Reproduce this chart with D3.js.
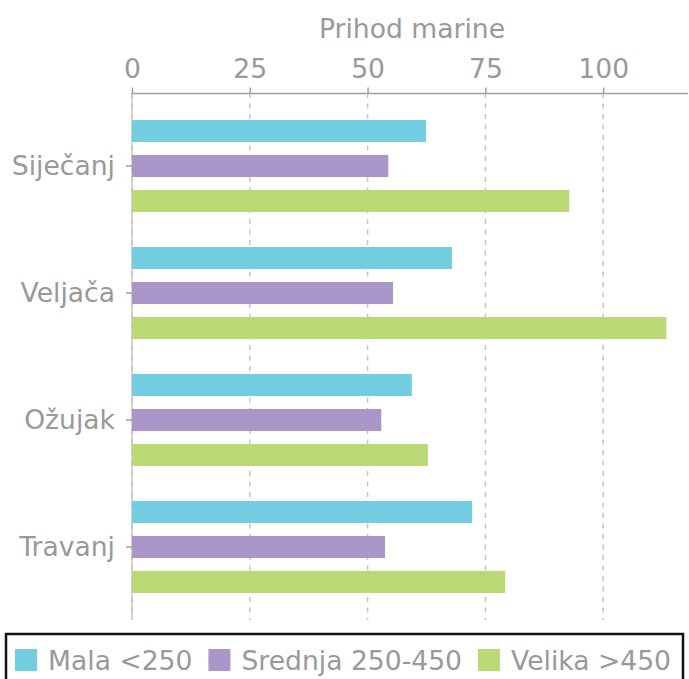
<!DOCTYPE html>
<html lang="hr">
<head>
<meta charset="utf-8">
<title>Prihod marine</title>
<script src="https://cdn.jsdelivr.net/npm/d3@7"></script>
<style>
  html, body { margin: 0; padding: 0; background: #fff; }
  svg { display: block; font-family: "DejaVu Sans", sans-serif; }
</style>
</head>
<body>
<script>
// data
var months = ["Siječanj", "Veljača", "Ožujak", "Travanj"];
var seriesNames = ["Mala <250", "Srednja 250-450", "Velika >450"];
var mala    = [62.4, 67.9, 59.4, 72.2];
var srednja = [54.4, 55.4, 52.9, 53.7];
var velika  = [92.8, 113.4, 62.8, 79.2];
var xTicks  = [0, 25, 50, 75, 100];
var colors  = ["#72cde0", "#ab96c9", "#bad976"];

var width = 689, height = 679;
var textColor = "#999";
var fontSize = "26.6px";

var svg = d3.select("body").append("svg")
    .attr("width", width)
    .attr("height", height);

var x = d3.scaleLinear().domain([0, 118]).range([132, 688]);
var y0 = d3.scaleBand().domain(months).range([102.5, 610.5]);
var y1 = d3.scaleBand().domain(seriesNames).range([0, y0.bandwidth()])
    .paddingInner(0.37).paddingOuter(0.5);

var rows = months.map(function(m, i) {
    return { month: m, values: [mala[i], srednja[i], velika[i]] };
});

// y axis line
svg.append("line")
    .attr("x1", x(0)).attr("x2", x(0))
    .attr("y1", 93).attr("y2", 620)
    .attr("stroke", "#c8c8c8").attr("stroke-width", 1.5);

// grid
svg.append("g").selectAll("line")
    .data(xTicks)
    .enter().append("line")
    .attr("x1", function(d) { return x(d); })
    .attr("x2", function(d) { return x(d); })
    .attr("y1", 93).attr("y2", 620)
    .attr("stroke", "#c4c4c4")
    .attr("stroke-width", 1.5)
    .attr("stroke-dasharray", "5,5.5");

// bars
var groups = svg.append("g").selectAll("g")
    .data(rows)
    .enter().append("g")
    .attr("transform", function(d) { return "translate(0," + y0(d.month) + ")"; });

groups.selectAll("rect")
    .data(function(d) { return d.values; })
    .enter().append("rect")
    .attr("x", x(0))
    .attr("y", function(d, i) { return y1(seriesNames[i]); })
    .attr("width", function(d) { return x(d) - x(0); })
    .attr("height", y1.bandwidth())
    .attr("fill", function(d, i) { return colors[i]; });

// top axis
var xAxis = svg.append("g")
    .attr("transform", "translate(0,93.5)")
    .call(d3.axisTop(x).tickValues(xTicks).tickSize(6).tickPadding(10));
xAxis.select(".domain").attr("stroke", "#a0a0a0").attr("stroke-width", 1.5)
    .attr("d", "M" + x(0) + ",0H688");
xAxis.selectAll(".tick line").attr("stroke", "#a0a0a0").attr("stroke-width", 1.5);
xAxis.selectAll("text")
    .attr("fill", textColor)
    .style("font-size", fontSize)
    .style("font-family", "DejaVu Sans");

svg.append("text")
    .attr("x", 412).attr("y", 38)
    .attr("text-anchor", "middle")
    .attr("fill", textColor)
    .style("font-size", fontSize)
    .text("Prihod marine");

// left axis
var yAxis = svg.append("g")
    .attr("transform", "translate(" + x(0) + ",0)")
    .call(d3.axisLeft(y0).tickSize(6).tickPadding(11));
yAxis.select(".domain").remove();
yAxis.selectAll(".tick line").attr("stroke", "#a0a0a0").attr("stroke-width", 1.5);
yAxis.selectAll("text")
    .attr("fill", textColor)
    .style("font-size", fontSize)
    .style("font-family", "DejaVu Sans");

// legend
svg.append("rect")
    .attr("x", 6).attr("y", 634)
    .attr("width", 677).attr("height", 60)
    .attr("fill", "none")
    .attr("stroke", "#111")
    .attr("stroke-width", 2.5);

var lx = 15;
seriesNames.forEach(function(name, i) {
    svg.append("rect")
        .attr("x", lx).attr("y", 649)
        .attr("width", 22).attr("height", 22)
        .attr("fill", colors[i]);
    var t = svg.append("text")
        .attr("x", lx + 33).attr("y", 670)
        .attr("fill", textColor)
        .style("font-size", fontSize)
        .text(name);
    lx += 33 + t.node().getComputedTextLength() + 16;
});
</script>
</body>
</html>
